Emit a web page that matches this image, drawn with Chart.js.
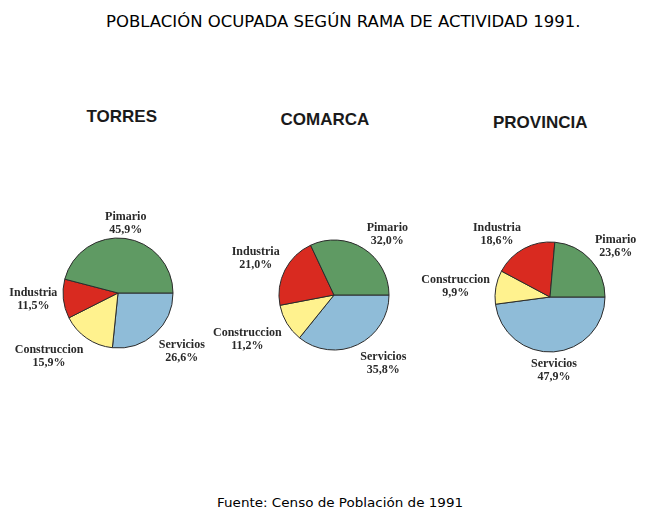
<!DOCTYPE html>
<html>
<head>
<meta charset="utf-8">
<script src="https://cdn.jsdelivr.net/npm/chart.js@4"></script>
<style>
  html, body { margin: 0; padding: 0; background: #fff; overflow: hidden; }
  #page { position: relative; width: 667px; height: 523px; overflow: hidden; }
  canvas { position: absolute; }
  .txt { position: absolute; white-space: nowrap; color: #000; }
  #titulo { font-family: "DejaVu Sans", sans-serif; font-size: 15px; top: 13px; left: 0; transform-origin: 0 0; }
  #fuente { font-family: "DejaVu Sans", sans-serif; font-size: 13px; top: 495px; left: 0; transform-origin: 0 0; }
  .cab { font-family: "Liberation Sans", Arial, sans-serif; font-weight: bold; font-size: 17px; color: #1a1a1a; }
</style>
</head>
<body>
<div id="page">
  <div id="titulo" class="txt">POBLACIÓN OCUPADA SEGÚN RAMA DE ACTIVIDAD 1991.</div>
  <div id="fuente" class="txt">Fuente: Censo de Población de 1991</div>
  <canvas id="grafico1" width="260" height="260" style="left:-12px; top:163px"></canvas>
  <canvas id="grafico2" width="260" height="260" style="left:204px; top:165px"></canvas>
  <canvas id="grafico3" width="260" height="260" style="left:420px; top:167px"></canvas>
</div>
<script>
// orden de los sectores, en el sentido de las agujas desde las 3 en punto
const categorias = ["Servicios", "Construccion", "Industria", "Pimario"];
const torres = [26.6, 15.9, 11.5, 45.9];
const comarca = [35.8, 11.2, 21.0, 32.0];
const provincia = [47.9, 9.9, 18.6, 23.6];
const titulos = ["TORRES", "COMARCA", "PROVINCIA"];

const colores = ["#8fbcd8", "#fff28e", "#d92a20", "#5f9a63"];

// cabeceras (centro x, centro y)
const cabeceras = [
  { x: 122, y: 117 },
  { x: 325, y: 120 },
  { x: 540, y: 123 },
];

const $page = document.getElementById("page");
cabeceras.forEach((c, i) => {
  const el = document.createElement("div");
  el.className = "txt cab";
  el.textContent = titulos[i];
  $page.appendChild(el);
  el.style.left = c.x - el.offsetWidth / 2 + "px";
  el.style.top = c.y - el.offsetHeight / 2 + "px";
});

function ajustarTexto(id, x0, ancho) {
  const el = document.getElementById(id);
  const s = ancho / el.offsetWidth;
  el.style.left = x0 + "px";
  el.style.transform = `scale(${s}, 1)`;
}
ajustarTexto("titulo", 106, 474);
ajustarTexto("fuente", 217, 246);

const formato = (v) => v.toFixed(1).replace(".", ",") + "%";

// etiquetas fuera de cada sector
const etiquetasFuera = {
  id: "etiquetasFuera",
  afterDatasetsDraw(chart) {
    const ctx = chart.ctx;
    const meta = chart.getDatasetMeta(0);
    const valores = chart.data.datasets[0].data;
    ctx.save();
    ctx.font = "bold 12px 'Liberation Serif', 'Times New Roman', serif";
    ctx.fillStyle = "#2a2a2a";
    ctx.textAlign = "center";
    ctx.textBaseline = "middle";
    meta.data.forEach((arc, i) => {
      const { x, y, startAngle, endAngle, outerRadius } = arc.getProps(
        ["x", "y", "startAngle", "endAngle", "outerRadius"], true
      );
      const medio = (startAngle + endAngle) / 2;
      const cos = Math.cos(medio);
      const sin = Math.sin(medio);
      const px = x + cos * (outerRadius + 6);
      const py = y + sin * (outerRadius + 6);
      const lineas = [chart.data.labels[i], formato(valores[i])];
      const alto = 26;
      const ancho = Math.max(...lineas.map((t) => ctx.measureText(t).width));
      let top;
      if (sin > 0.3) top = py;
      else if (sin < -0.3) top = py - alto + 4;
      else top = py - alto / 2;
      let cx;
      if (cos > 0.3) cx = px + ancho / 2;
      else if (cos < -0.3) cx = px - ancho / 2;
      else cx = px;
      lineas.forEach((t, k) => {
        ctx.fillText(t, cx, top + 6.5 + k * 13);
      });
    });
    ctx.restore();
  },
};

function crearPie(id, datos) {
  return new Chart(document.getElementById(id), {
    type: "pie",
    data: {
      labels: categorias,
      datasets: [
        {
          data: datos,
          backgroundColor: colores,
          borderColor: "#2b2b2b",
          borderWidth: 1,
          hoverOffset: 0,
        },
      ],
    },
    options: {
      responsive: false,
      animation: false,
      rotation: 90,
      radius: 55,
      layout: { padding: 20 },
      events: [],
      plugins: {
        legend: { display: false },
        tooltip: { enabled: false },
      },
    },
    plugins: [etiquetasFuera],
  });
}

crearPie("grafico1", torres);
crearPie("grafico2", comarca);
crearPie("grafico3", provincia);
</script>
</body>
</html>
